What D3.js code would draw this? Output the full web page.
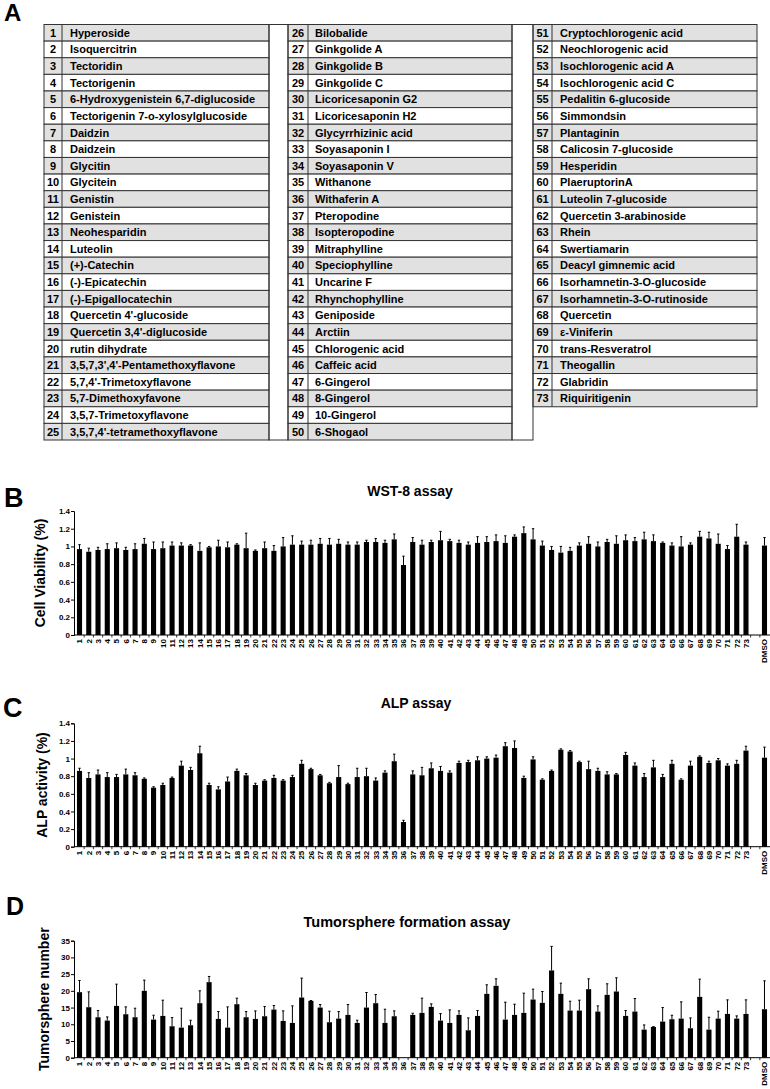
<!DOCTYPE html>
<html>
<head>
<meta charset="utf-8">
<script src="https://cdn.jsdelivr.net/npm/d3@7"></script>
<style>
html,body{margin:0;padding:0;background:#fff;}
svg{display:block;font-family:"Liberation Sans",Arial,Helvetica,sans-serif;font-weight:bold;}
</style>
</head>
<body>
<svg id="fig" width="770" height="1089"></svg>
<script>
// ---------------- DATA ----------------
const compoundNames = [
"Hyperoside","Isoquercitrin","Tectoridin","Tectorigenin","6-Hydroxygenistein 6,7-diglucoside",
"Tectorigenin 7-o-xylosylglucoside","Daidzin","Daidzein","Glycitin","Glycitein",
"Genistin","Genistein","Neohesparidin","Luteolin","(+)-Catechin",
"(-)-Epicatechin","(-)-Epigallocatechin","Quercetin 4'-glucoside","Quercetin 3,4'-diglucoside","rutin dihydrate",
"3,5,7,3',4'-Pentamethoxyflavone","5,7,4'-Trimetoxyflavone","5,7-Dimethoxyfavone","3,5,7-Trimetoxyflavone","3,5,7,4'-tetramethoxyflavone",
"Bilobalide","Ginkgolide A","Ginkgolide B","Ginkgolide C","Licoricesaponin G2",
"Licoricesaponin H2","Glycyrrhizinic acid","Soyasaponin I","Soyasaponin V","Withanone",
"Withaferin A","Pteropodine","Isopteropodine","Mitraphylline","Speciophylline",
"Uncarine F","Rhynchophylline","Geniposide","Arctiin","Chlorogenic acid",
"Caffeic acid","6-Gingerol","8-Gingerol","10-Gingerol","6-Shogaol",
"Cryptochlorogenic acid","Neochlorogenic acid","Isochlorogenic acid A","Isochlorogenic acid C","Pedalitin 6-glucoside",
"Simmondsin","Plantaginin","Calicosin 7-glucoside","Hesperidin","PlaeruptorinA",
"Luteolin 7-glucoside","Quercetin 3-arabinoside","Rhein","Swertiamarin","Deacyl gimnemic acid",
"Isorhamnetin-3-O-glucoside","Isorhamnetin-3-O-rutinoside","Quercetin","\u03b5-Viniferin","trans-Resveratrol",
"Theogallin","Glabridin","Riquiritigenin"
];

const categories = [
"1","2","3","4","5","6","7","8","9","10","11","12","13","14","15","16","17","18","19","20",
"21","22","23","24","25","26","27","28","29","30","31","32","33","34","35","36","37","38","39","40",
"41","42","43","44","45","46","47","48","49","50","51","52","53","54","55","56","57","58","59","60",
"61","62","63","64","65","66","67","68","69","70","71","72","73","gap","DMSO"
];

// WST-8 assay (cell viability)
const wstMean = [
0.97,0.94,0.96,0.97,0.98,0.96,0.97,1.03,0.97,0.98,1.01,1.01,1.01,0.95,0.99,1.00,0.99,1.02,0.98,0.95,
0.98,0.95,1.00,1.02,1.02,1.02,1.03,1.02,1.03,1.02,1.02,1.05,1.05,1.04,1.08,0.79,1.05,1.02,1.05,1.07,
1.06,1.04,1.02,1.04,1.05,1.06,1.04,1.11,1.15,1.08,1.01,0.96,0.93,0.95,1.01,1.03,1.00,1.05,1.03,1.07,
1.06,1.08,1.06,1.04,1.01,1.00,1.02,1.11,1.09,1.03,0.97,1.11,1.02,null,1.01
];
const wstErr = [
0.05,0.04,0.03,0.06,0.06,0.03,0.06,0.06,0.08,0.07,0.04,0.03,0.01,0.09,0.01,0.07,0.06,0.01,0.17,0.01,
0.07,0.06,0.10,0.10,0.04,0.05,0.06,0.07,0.05,0.03,0.03,0.02,0.04,0.03,0.06,0.10,0.05,0.05,0.02,0.10,
0.02,0.03,0.03,0.07,0.06,0.07,0.08,0.02,0.07,0.12,0.05,0.04,0.07,0.04,0.03,0.08,0.05,0.03,0.09,0.06,
0.04,0.08,0.07,0.01,0.03,0.11,0.02,0.06,0.07,0.11,0.04,0.14,0.03,null,0.09
];

// ALP assay
const alpMean = [
0.86,0.78,0.82,0.79,0.79,0.82,0.81,0.77,0.67,0.70,0.78,0.92,0.87,1.06,0.70,0.65,0.74,0.86,0.81,0.70,
0.75,0.78,0.75,0.79,0.94,0.88,0.81,0.72,0.79,0.71,0.79,0.80,0.75,0.84,0.97,0.28,0.82,0.81,0.89,0.86,
0.84,0.95,0.96,0.98,1.00,1.01,1.14,1.12,0.78,0.99,0.76,0.86,1.10,1.08,0.96,0.88,0.86,0.82,0.82,1.04,
0.92,0.79,0.90,0.79,0.94,0.76,0.92,1.02,0.95,0.98,0.92,0.94,1.09,null,1.01
];
const alpErr = [
0.03,0.06,0.05,0.05,0.03,0.06,0.03,0.01,0.01,0.02,0.01,0.05,0.03,0.08,0.02,0.03,0.05,0.02,0.02,0.02,
0.01,0.03,0.01,0.02,0.04,0.01,0.01,0.01,0.13,0.01,0.10,0.09,0.03,0.02,0.08,0.02,0.04,0.09,0.06,0.05,
0.02,0.02,0.02,0.04,0.02,0.03,0.04,0.08,0.02,0.03,0.01,0.01,0.01,0.01,0.01,0.09,0.03,0.03,0.01,0.03,
0.03,0.04,0.08,0.03,0.04,0.01,0.05,0.01,0.02,0.02,0.02,0.04,0.05,null,0.12
];

// Tumorsphere formation assay
const tumorMean = [
19.6,15.1,12.1,11.1,15.5,13.0,12.1,20.0,11.4,12.5,9.4,9.0,9.7,16.3,22.6,11.6,9.0,16.0,12.1,11.6,
12.4,14.4,11.0,10.4,18.0,17.0,15.0,10.6,11.7,12.8,10.4,15.0,16.3,10.4,12.4,null,12.8,13.4,15.2,11.1,
10.4,12.8,8.2,12.5,19.1,21.5,11.4,12.8,13.4,17.4,16.4,26.1,19.1,14.1,14.1,20.5,13.8,18.8,19.8,12.5,
13.8,8.4,9.2,10.8,11.5,11.7,8.8,18.2,8.4,11.7,13.1,11.7,13.1,null,14.5
];
const tumorErr = [
3.5,4.6,2.0,1.1,6.5,2.2,2.7,3.2,1.3,4.7,2.6,5.8,1.5,3.7,1.7,2.2,6.2,1.8,1.7,2.4,
2.9,1.2,3.0,5.1,5.8,0.1,0.9,3.3,2.1,3.1,0.8,4.5,2.6,4.1,1.6,null,0.5,4.4,0.9,2.1,
3.9,1.2,3.7,1.6,2.7,2.1,5.2,3.2,5.9,3.1,3.4,7.2,3.2,2.8,3.1,3.1,1.7,3.3,4.1,1.6,
3.9,1.4,0.1,4.2,1.2,5.0,3.1,5.3,3.7,2.2,4.2,0.8,4.2,null,8.5
];

const yTicksRatio = [0,0.2,0.4,0.6,0.8,1,1.2,1.4];
const yTicksTumor = [0,5,10,15,20,25,30,35];

// ---------------- DRAW ----------------
const svg = d3.select("#fig");
const FONT = '"Liberation Sans",Arial,Helvetica,sans-serif';

// Panel letters
[["A",4,21,24],["B",4,507,27],["C",3,717,27],["D",6,915,25]].forEach(([t,x,y,s])=>{
  svg.append("text").attr("x",x).attr("y",y).attr("font-size",s).attr("font-weight","bold").text(t);
});

// ---------- Table A ----------
const tbl = svg.append("g");
const top0 = 24.5, rowH = 16.62, rowsPer = 25;
const cols = [
  {num0:44, num1:62, name1:269, tx:70},
  {num0:288, num1:308, name1:512, tx:315},
  {num0:533, num1:552, name1:757, tx:560}
];
const spacers = [[269,288],[512,533]];
const lineCol = "#333";

cols.forEach((c,ci)=>{
  const items = compoundNames.slice(ci*rowsPer, ci*rowsPer+rowsPer);
  const g = tbl.append("g");
  g.selectAll("rect.row").data(items).join("rect")
    .attr("x",c.num0).attr("y",(d,i)=>top0+i*rowH)
    .attr("width",c.name1-c.num0).attr("height",rowH)
    .attr("fill",(d,i)=> i%2===0 ? "#e1e1e1" : "#ffffff")
    .attr("stroke",lineCol).attr("stroke-width",1);
  g.append("line").attr("x1",c.num1).attr("x2",c.num1)
    .attr("y1",top0).attr("y2",top0+items.length*rowH)
    .attr("stroke",lineCol).attr("stroke-width",1);
  g.selectAll("text.num").data(items).join("text")
    .attr("x",(c.num0+c.num1)/2).attr("y",(d,i)=>top0+i*rowH+12.3)
    .attr("text-anchor","middle").attr("font-size",11).attr("font-weight","bold")
    .text((d,i)=> ci*rowsPer+i+1);
  g.selectAll("text.name").data(items).join("text")
    .attr("x",c.tx).attr("y",(d,i)=>top0+i*rowH+12.3)
    .attr("font-size",11).attr("font-weight","bold")
    .text(d=>d);
});
spacers.forEach(([a,b])=>{
  tbl.append("rect").attr("x",a).attr("y",top0).attr("width",b-a).attr("height",rowsPer*rowH)
    .attr("fill","none").attr("stroke",lineCol).attr("stroke-width",1);
});

// ---------- Bar charts ----------
function drawChart(cfg){
  const g = svg.append("g");
  const x = d3.scaleBand().domain(categories).range([74,770]).paddingInner(0.45).paddingOuter(0.32);
  const y = d3.scaleLinear().domain([0,cfg.ymax]).range([cfg.y0,cfg.y1]);
  const data = categories.map((c,i)=>({c, m:cfg.mean[i], e:cfg.err[i]})).filter(d=>d.m!=null);

  // title
  g.append("text").attr("x",cfg.tx).attr("y",cfg.ty).attr("text-anchor","middle")
    .attr("font-size",cfg.tsize||14).attr("font-weight","bold").text(cfg.title);
  // y label
  g.append("text").attr("transform",`translate(${cfg.lx},${(cfg.y0+cfg.y1)/2}) rotate(-90)`)
    .attr("text-anchor","middle").attr("font-size",cfg.lsize||14).attr("font-weight","bold").text(cfg.ylabel);

  // bars
  g.selectAll("rect.bar").data(data).join("rect")
    .attr("x",d=>x(d.c)).attr("width",x.bandwidth())
    .attr("y",d=>y(d.m)).attr("height",d=>y(0)-y(d.m))
    .attr("fill","#000");
  // error bars
  g.selectAll("line.err").data(data).join("line")
    .attr("x1",d=>x(d.c)+x.bandwidth()/2).attr("x2",d=>x(d.c)+x.bandwidth()/2)
    .attr("y1",d=>y(d.m)).attr("y2",d=>y(d.m+d.e))
    .attr("stroke","#000").attr("stroke-width",1);
  g.selectAll("line.cap").data(data).join("line")
    .attr("x1",d=>x(d.c)+x.bandwidth()/2-1.2).attr("x2",d=>x(d.c)+x.bandwidth()/2+1.2)
    .attr("y1",d=>y(d.m+d.e)).attr("y2",d=>y(d.m+d.e))
    .attr("stroke","#000").attr("stroke-width",1);

  // y axis
  const ya = d3.axisLeft(y).tickValues(cfg.ticks).tickSize(3).tickFormat(d=>String(d));
  const yg = g.append("g").attr("transform","translate(74,0)").call(ya);
  yg.select(".domain").attr("stroke","#000").attr("stroke-width",1);
  yg.selectAll(".tick line").attr("stroke","#000");
  yg.selectAll(".tick text").attr("font-size",8).attr("font-weight","bold")
    .attr("font-family",FONT).attr("x",-4).attr("fill","#000");

  // x axis
  const xa = d3.axisBottom(x).tickSize(0).tickFormat(d=> d==="gap" ? "" : d);
  const xg = g.append("g").attr("transform",`translate(0,${cfg.y0})`).call(xa);
  xg.select(".domain").remove();
  g.append("line").attr("x1",74).attr("x2",770).attr("y1",cfg.y0).attr("y2",cfg.y0)
    .attr("stroke","#000").attr("stroke-width",1);
  xg.selectAll(".tick text")
    .attr("font-size",8).attr("font-weight","bold").attr("font-family",FONT).attr("fill","#000")
    .attr("transform","rotate(-90)").attr("text-anchor","end")
    .attr("x",-4).attr("y",0).attr("dy","0.35em");
  // small ticks between categories
  const bounds = categories.slice(1).map(c=> x(c) - x.step()*x.paddingInner()/2);
  g.selectAll("line.xt").data(bounds).join("line")
    .attr("x1",d=>d).attr("x2",d=>d).attr("y1",cfg.y0).attr("y2",cfg.y0+2.5)
    .attr("stroke","#000").attr("stroke-width",0.8);
}

drawChart({title:"WST-8 assay", tx:410, ty:496, ylabel:"Cell Viability (%)", lx:45,
  mean:wstMean, err:wstErr, ymax:1.4, y0:635, y1:511, ticks:yTicksRatio});
drawChart({title:"ALP assay", tx:416, ty:708, ylabel:"ALP activity (%)", lx:47,
  mean:alpMean, err:alpErr, ymax:1.4, y0:846.7, y1:723.3, ticks:yTicksRatio});
drawChart({title:"Tumorsphere formation assay", tx:407, ty:927, tsize:14.5, ylabel:"Tumorsphere number", lx:49,
  mean:tumorMean, err:tumorErr, ymax:35, y0:1057.7, y1:940.7, ticks:yTicksTumor});
</script>
</body>
</html>
